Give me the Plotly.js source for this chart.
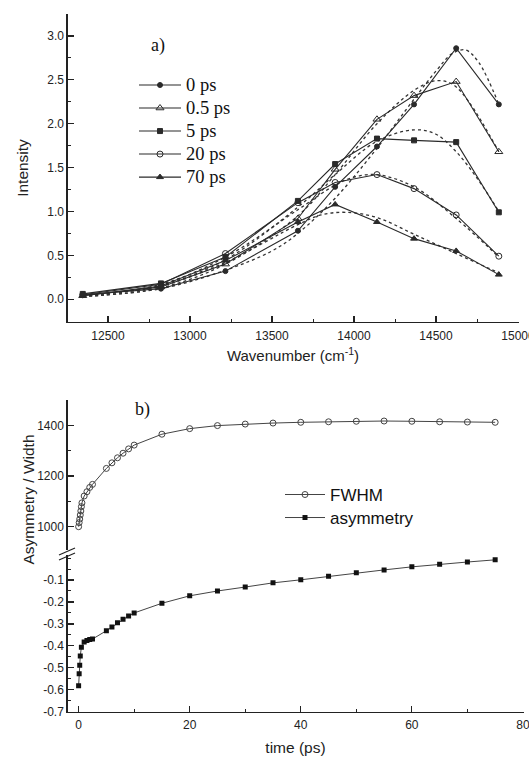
<!DOCTYPE html>
<html>
<head>
<meta charset="utf-8">
<script src="https://cdn.plot.ly/plotly-3.0.1.min.js"></script>
<style>html,body{margin:0;padding:0;background:#fff;}#chart{width:529px;height:757px;}</style>
</head>
<body>
<div id="chart"></div>
<script>
// ---------- panel a) spectra ----------
const wavenumber = [12346, 12823, 13216, 13658, 13885, 14140, 14366, 14623, 14883];
const int0ps   = [0.05, 0.12, 0.32, 0.78, 1.28, 1.74, 2.22, 2.86, 2.22];
const int05ps  = [0.04, 0.14, 0.40, 0.92, 1.48, 2.05, 2.32, 2.48, 1.68];
const int5ps   = [0.06, 0.18, 0.48, 1.12, 1.54, 1.83, 1.81, 1.79, 0.99];
const int20ps  = [0.05, 0.17, 0.52, 1.10, 1.33, 1.42, 1.26, 0.96, 0.49];
const int70ps  = [0.04, 0.15, 0.44, 0.88, 1.08, 0.88, 0.69, 0.55, 0.28];
const seriesNames = ["0 ps", "0.5 ps", "5 ps", "20 ps", "70 ps"];
const wnTickVals = [12500, 13000, 13500, 14000, 14500, 15000];
const wnTickText = ["12500", "13000", "13500", "14000", "14500", "15000"];

// dotted fit curves
const fitWn0  = [12346, 12823, 13216, 13500, 13658, 13885, 14140, 14366, 14500, 14600, 14680, 14760, 14883];
const fit0    = [0.03, 0.12, 0.33, 0.55, 0.75, 1.15, 1.72, 2.28, 2.60, 2.80, 2.84, 2.70, 2.22];
const fitWn05 = [12346, 12823, 13216, 13658, 13885, 14140, 14366, 14500, 14600, 14700, 14883];
const fit05   = [0.03, 0.13, 0.40, 0.95, 1.42, 2.00, 2.38, 2.49, 2.45, 2.25, 1.68];
const fitWn5  = [12346, 12823, 13216, 13658, 13885, 14140, 14366, 14500, 14623, 14750, 14883];
const fit5    = [0.04, 0.16, 0.45, 1.05, 1.42, 1.80, 1.93, 1.88, 1.68, 1.38, 1.00];
const fitWn20 = [12346, 12823, 13216, 13658, 13885, 14000, 14140, 14366, 14623, 14883];
const fit20   = [0.04, 0.17, 0.48, 1.02, 1.30, 1.39, 1.42, 1.28, 0.92, 0.48];
const fitWn70 = [12346, 12823, 13216, 13658, 13800, 13950, 14140, 14366, 14623, 14883];
const fit70   = [0.04, 0.15, 0.42, 0.85, 0.96, 0.99, 0.93, 0.74, 0.52, 0.30];

// ---------- panel b) kinetics ----------
const timeFwhm = [0, 0.1, 0.2, 0.3, 0.4, 0.5, 0.6, 1, 1.5, 2, 2.5, 5, 6, 7, 8, 9, 10, 15, 20, 25, 30, 35, 40, 45, 50, 55, 60, 65, 70, 75];
const fwhm     = [1000, 1016, 1030, 1046, 1062, 1079, 1094, 1121, 1138, 1155, 1167, 1230, 1252, 1272, 1290, 1307, 1322, 1365, 1387, 1399, 1405, 1409, 1412, 1414, 1416, 1417, 1416, 1414, 1413, 1412];
const timeAsym = [0, 0.1, 0.2, 0.3, 0.5, 1, 1.5, 2, 2.5, 5, 6, 7, 8, 9, 10, 15, 20, 25, 30, 35, 40, 45, 50, 55, 60, 65, 70, 75];
const asym     = [-0.582, -0.527, -0.488, -0.446, -0.406, -0.382, -0.376, -0.371, -0.369, -0.331, -0.314, -0.295, -0.279, -0.264, -0.250, -0.206, -0.172, -0.150, -0.132, -0.113, -0.099, -0.083, -0.067, -0.054, -0.040, -0.028, -0.018, -0.008];

const asymTickVals = [-0.7, -0.6, -0.5, -0.4, -0.3, -0.2, -0.1];
const asymTickText = ["-0.7", "-0.6", "-0.5", "-0.4", "-0.3", "-0.2", "-0.1"];
const fwhmTickVals = [1000, 1200, 1400];

const W = 529, H = 757;
const px = v => v / W;
const py = v => 1 - v / H;

const lineCol = '#2a2a2a';
const axisCol = '#222';
const sans = 'Liberation Sans, Arial, sans-serif';
const serif = 'Liberation Serif, Times New Roman, serif';

const seriesY = [int0ps, int05ps, int5ps, int20ps, int70ps];
const symbols = ['circle', 'triangle-up-open', 'square', 'circle-open', 'triangle-up'];
const sizes = [5, 7, 5, 6, 6];
const fitsX = [fitWn0, fitWn05, fitWn5, fitWn20, fitWn70];
const fitsY = [fit0, fit05, fit5, fit20, fit70];

const big = (t, s) => '<span style="font-size:' + s + 'px">' + t + '</span>';

const traces = [];
for (let i = 0; i < 5; i++) {
  traces.push({
    x: fitsX[i], y: fitsY[i], xaxis: 'x', yaxis: 'y', type: 'scatter', mode: 'lines',
    line: {color: '#333', width: 1.3, dash: 'dot', shape: 'spline', smoothing: 1},
    showlegend: false, hoverinfo: 'skip'
  });
}
for (let i = 0; i < 5; i++) {
  traces.push({
    x: wavenumber, y: seriesY[i], name: big(seriesNames[i], 18.5), xaxis: 'x', yaxis: 'y',
    type: 'scatter', mode: 'lines+markers',
    line: {color: lineCol, width: 1.1},
    marker: {symbol: symbols[i], size: sizes[i], color: lineCol, line: {color: lineCol, width: 1}},
    legend: 'legend'
  });
}
traces.push({
  x: timeFwhm, y: fwhm, name: big('FWHM', 17), xaxis: 'x2', yaxis: 'y3', type: 'scatter', mode: 'lines+markers',
  line: {color: '#444', width: 1}, marker: {symbol: 'circle-open', size: 6, color: '#444', line: {width: 1}},
  legend: 'legend2'
});
traces.push({
  x: timeAsym, y: asym, name: big('asymmetry', 17), xaxis: 'x2', yaxis: 'y2', type: 'scatter', mode: 'lines+markers',
  line: {color: '#444', width: 1}, marker: {symbol: 'square', size: 5, color: '#111'},
  legend: 'legend2'
});

const axBase = {
  showgrid: false, zeroline: false, showline: true, linecolor: axisCol, linewidth: 1.2,
  ticks: 'inside', ticklen: 6, tickwidth: 1.2, tickcolor: axisCol,
  tickfont: {family: sans, size: 12, color: '#222'},
  ticklabeloverflow: 'allow',
  minor: {ticks: 'inside', ticklen: 3, tickwidth: 1, tickcolor: axisCol}
};

const layout = {
  width: W, height: H,
  margin: {l: 0, r: 0, t: 0, b: 0},
  paper_bgcolor: '#fff', plot_bgcolor: '#fff',
  font: {family: sans, color: '#222'},
  xaxis: Object.assign({}, axBase, {
    domain: [px(67.5), px(518.5)], range: [12253, 15003], anchor: 'y',
    tickmode: 'array', tickvals: wnTickVals, ticktext: wnTickText, ticklabelstandoff: 2,
    minor: Object.assign({}, axBase.minor, {tick0: 12500, dtick: 250}),
    title: {text: 'Wavenumber (cm<sup>-1</sup>)', font: {family: sans, size: 15, color: '#222'}, standoff: 9}
  }),
  yaxis: Object.assign({}, axBase, {
    domain: [py(322), py(14)], range: [-0.26, 3.25], anchor: 'x',
    tick0: 0, dtick: 0.5, tickformat: '.1f',
    minor: Object.assign({}, axBase.minor, {tick0: 0, dtick: 0.25}),
    title: {text: 'Intensity', font: {family: sans, size: 15.5, color: '#222'}, standoff: 14}
  }),
  xaxis2: Object.assign({}, axBase, {
    domain: [px(67.5), px(523.5)], range: [-2, 80.1], anchor: 'y2',
    tick0: 0, dtick: 20, ticklabelstandoff: 2,
    minor: Object.assign({}, axBase.minor, {tick0: 0, dtick: 10}),
    title: {text: 'time (ps)', font: {family: sans, size: 15.5, color: '#222'}, standoff: 10}
  }),
  yaxis2: Object.assign({}, axBase, {
    domain: [py(711.7), py(555)], range: [-0.7, 0.014], anchor: 'x2',
    tickmode: 'array', tickvals: asymTickVals, ticktext: asymTickText,
    minor: Object.assign({}, axBase.minor, {tick0: 0, dtick: 0.05})
  }),
  yaxis3: Object.assign({}, axBase, {
    domain: [py(550), py(400)], range: [908, 1500], anchor: 'x2',
    tickmode: 'array', tickvals: fwhmTickVals,
    minor: Object.assign({}, axBase.minor, {tick0: 900, dtick: 100})
  }),
  legend: {
    x: px(134), y: py(68.5), xanchor: 'left', yanchor: 'top',
    bgcolor: 'rgba(0,0,0,0)', borderwidth: 0, itemwidth: 42,
    font: {family: serif, size: 15.4, color: '#111'}, tracegroupgap: 0
  },
  legend2: {
    x: px(280), y: py(478), xanchor: 'left', yanchor: 'top',
    bgcolor: 'rgba(0,0,0,0)', borderwidth: 0, itemwidth: 40,
    font: {family: sans, size: 15.4, color: '#111'}, tracegroupgap: 0
  },
  annotations: [
    {text: 'a)', xref: 'paper', yref: 'paper', x: px(149), y: py(33), showarrow: false,
     font: {family: serif, size: 18, color: '#111'}},
    {text: 'b)', xref: 'paper', yref: 'paper', x: px(133), y: py(410), showarrow: false,
     font: {family: serif, size: 18, color: '#111'}},
    {text: 'Asymmetry / Width', xref: 'paper', yref: 'paper', x: px(17), y: py(567), showarrow: false,
     textangle: -90, font: {family: sans, size: 15.5, color: '#222'}}
  ],
  shapes: [
    {type: 'line', xref: 'paper', yref: 'paper', x0: px(59), y0: py(560), x1: px(75), y1: py(553), line: {color: axisCol, width: 1.2}},
    {type: 'line', xref: 'paper', yref: 'paper', x0: px(59), y0: py(555), x1: px(75), y1: py(548), line: {color: axisCol, width: 1.2}}
  ]
};

Plotly.newPlot('chart', traces, layout, {staticPlot: true, displayModeBar: false});
</script>
</body>
</html>
